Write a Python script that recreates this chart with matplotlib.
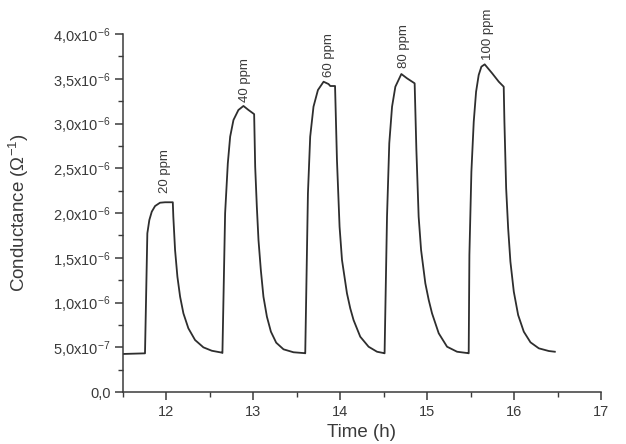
import matplotlib
matplotlib.use("Agg")
import matplotlib.pyplot as plt
from matplotlib.ticker import MultipleLocator, FixedLocator, FixedFormatter

# conductance response (time in h, conductance in 1e-6 S)
time_h = [
    # 20 ppm
    11.50, 11.753, 11.765, 11.780, 11.803, 11.831, 11.869, 11.926, 11.984, 12.073,
    12.079, 12.099, 12.126, 12.157, 12.195, 12.252, 12.329, 12.425, 12.522, 12.637,
    # 40 ppm
    12.644, 12.675, 12.706, 12.733, 12.771, 12.828, 12.886, 12.944, 13.009,
    13.021, 13.040, 13.059, 13.086, 13.116, 13.156, 13.202, 13.263, 13.347, 13.462, 13.592,
    # 60 ppm
    13.597, 13.628, 13.654, 13.692, 13.743, 13.808, 13.865, 13.885, 13.940,
    13.962, 13.992, 14.020, 14.077, 14.115, 14.153, 14.230, 14.326, 14.423, 14.505,
    # 80 ppm
    14.510, 14.538, 14.564, 14.596, 14.634, 14.703, 14.768, 14.856,
    14.876, 14.902, 14.930, 14.979, 15.018, 15.056, 15.133, 15.229, 15.344, 15.472,
    # 100 ppm
    15.478, 15.486, 15.509, 15.536, 15.563, 15.593, 15.624, 15.662, 15.748, 15.824, 15.881,
    15.889, 15.909, 15.932, 15.958, 15.997, 16.047, 16.112, 16.189, 16.285, 16.400, 16.469,
]
conductance = [
    0.425, 0.432, 1.028, 1.773, 1.922, 2.015, 2.078, 2.115, 2.120, 2.120,
    1.959, 1.587, 1.288, 1.065, 0.879, 0.712, 0.581, 0.499, 0.461, 0.440,
    0.436, 1.997, 2.555, 2.853, 3.039, 3.151, 3.196, 3.151, 3.105,
    2.517, 2.070, 1.698, 1.363, 1.065, 0.841, 0.674, 0.551, 0.477, 0.444, 0.434,
    0.432, 2.220, 2.853, 3.188, 3.374, 3.467, 3.441, 3.419, 3.419,
    2.592, 1.847, 1.475, 1.103, 0.935, 0.804, 0.618, 0.506, 0.450, 0.434,
    0.432, 1.959, 2.779, 3.188, 3.411, 3.553, 3.505, 3.449,
    2.704, 1.959, 1.587, 1.214, 1.028, 0.879, 0.656, 0.506, 0.450, 0.434,
    0.432, 1.531, 2.461, 3.020, 3.355, 3.542, 3.635, 3.661, 3.561, 3.467, 3.411,
    3.020, 2.276, 1.829, 1.456, 1.121, 0.860, 0.674, 0.555, 0.488, 0.458, 0.450,
]

labels = ["20 ppm", "40 ppm", "60 ppm", "80 ppm", "100 ppm"]
label_t = [11.985, 12.90, 13.865, 14.73, 15.70]
label_v = [2.22, 3.24, 3.52, 3.62, 3.71]

y_ticks = [0.0, 0.5, 1.0, 1.5, 2.0, 2.5, 3.0, 3.5, 4.0]
y_labels = ["0,0", r"5,0x10$^{-7}$", r"1,0x10$^{-6}$", r"1,5x10$^{-6}$",
            r"2,0x10$^{-6}$", r"2,5x10$^{-6}$", r"3,0x10$^{-6}$",
            r"3,5x10$^{-6}$", r"4,0x10$^{-6}$"]

plt.rcParams['font.family'] = ['Liberation Sans', 'DejaVu Sans']
plt.rcParams['mathtext.fontset'] = 'custom'
plt.rcParams['mathtext.rm'] = 'Liberation Sans'
plt.rcParams['mathtext.it'] = 'Liberation Sans:italic'

ink = '#3a3a3a'
fig = plt.figure(figsize=(6.26, 4.44), dpi=100)
ax = fig.add_axes([0.1965, 0.1171, 0.7635, 0.8063])

ax.plot(time_h, conductance, color='#2e2e2e', lw=1.3)

for lab, t, v in zip(labels, label_t, label_v):
    ax.text(t, v, lab, rotation=90, ha='center', va='bottom',
            fontsize=9.5, color=ink, clip_on=False)

ax.set_xlim(11.5, 17)
ax.set_ylim(0, 4.0)
ax.xaxis.set_major_locator(FixedLocator([12, 13, 14, 15, 16, 17]))
ax.xaxis.set_minor_locator(MultipleLocator(0.5))
ax.yaxis.set_major_locator(FixedLocator(y_ticks))
ax.yaxis.set_major_formatter(FixedFormatter(y_labels))
ax.yaxis.set_minor_locator(MultipleLocator(0.25))

for s in ['top', 'right']:
    ax.spines[s].set_visible(False)
for s in ['left', 'bottom']:
    ax.spines[s].set_color(ink)
    ax.spines[s].set_linewidth(1.1)

ax.tick_params(which='major', direction='out', length=6, width=1.1,
               color=ink, labelcolor=ink, labelsize=10.5, pad=3)
ax.tick_params(which='minor', direction='out', length=3.5, width=1.0, color=ink)

ax.set_xlabel('Time (h)', fontsize=13.5, color=ink, labelpad=4)
ax.set_ylabel(r'Conductance ($\Omega^{-1}$)', fontsize=13.5, color=ink, labelpad=16)

fig.savefig('out.png', dpi=100)
